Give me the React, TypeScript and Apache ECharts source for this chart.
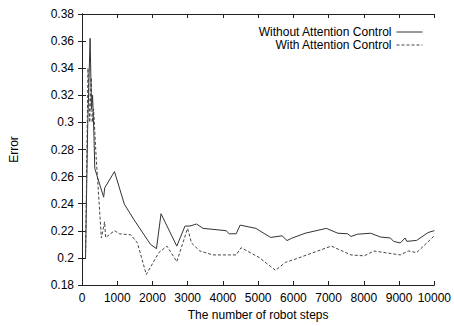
import React, { useEffect, useRef } from "react";
import * as echarts from "echarts";

const seriesNames = ["Without Attention Control", "With Attention Control"];

const withoutSteps = [100, 160, 230, 270, 300, 340, 363, 615, 645, 922, 1201, 1480, 1946, 2114, 2243, 2690, 2924, 3065, 3250, 3436, 4087, 4180, 4376, 4488, 4935, 5354, 5680, 5819, 5950, 6332, 6936, 7263, 7542, 7635, 7821, 8194, 8473, 8752, 8846, 9032, 9171, 9218, 9497, 9823, 10000];
const withoutError = [0.2, 0.295, 0.362, 0.31, 0.32, 0.29, 0.266, 0.2448, 0.2517, 0.2637, 0.2397, 0.228, 0.2099, 0.2068, 0.2326, 0.2087, 0.2235, 0.2235, 0.225, 0.2218, 0.2201, 0.2178, 0.2178, 0.2242, 0.2218, 0.2151, 0.2163, 0.2128, 0.2145, 0.2182, 0.2218, 0.2182, 0.2178, 0.2158, 0.2175, 0.2182, 0.2154, 0.2147, 0.2122, 0.211, 0.2147, 0.2122, 0.2129, 0.2187, 0.2201];

const withSteps = [100, 170, 220, 260, 290, 330, 370, 400, 550, 642, 670, 922, 1061, 1388, 1574, 1825, 2179, 2411, 2690, 2997, 3109, 3343, 3715, 4181, 4376, 4516, 5028, 5494, 5774, 6053, 7076, 7635, 8008, 8287, 9032, 9265, 9497, 10000];
const withError = [0.2, 0.34, 0.3, 0.333, 0.3, 0.31, 0.29, 0.275, 0.2147, 0.2266, 0.215, 0.2201, 0.2178, 0.217, 0.211, 0.1877, 0.2039, 0.2087, 0.1972, 0.2218, 0.211, 0.2051, 0.2022, 0.2022, 0.2022, 0.2075, 0.2003, 0.1908, 0.1967, 0.1991, 0.2087, 0.2022, 0.2015, 0.2051, 0.2022, 0.2051, 0.2039, 0.2163];

const FONT = "'Liberation Sans', Arial, sans-serif";

export default function App() {
  const ref = useRef<HTMLDivElement>(null);
  useEffect(() => {
    if (!ref.current) return;
    const chart = echarts.init(ref.current, null, { renderer: "svg" });
    const axisLine = { show: true, lineStyle: { color: "#222", width: 1 } };
    const fmtY = (v: number) => String(parseFloat(v.toFixed(2)));
    const fmtX = (v: number) => String(Math.round(v));
    chart.setOption({
      animation: false,
      backgroundColor: "#fff",
      grid: { left: 77, right: 19, top: 14, bottom: 33 },
      legend: {
        show: true,
        orient: "vertical",
        right: 31,
        top: 26,
        padding: 0,
        align: "right",
        itemWidth: 26,
        itemHeight: 8,
        itemGap: 1,
        itemStyle: { opacity: 0 },
        lineStyle: { width: 1 },
        textStyle: { fontFamily: FONT, fontSize: 12, color: "#000", lineHeight: 10 },
        data: seriesNames,
      },
      xAxis: [
        {
          type: "value",
          min: 0,
          max: 10000,
          interval: 1000,
          name: "The number of robot steps",
          nameLocation: "middle",
          nameGap: 24,
          nameTextStyle: { fontFamily: FONT, fontSize: 12, color: "#000" },
          axisLine,
          axisTick: { show: true, inside: true, length: 4, lineStyle: { color: "#222" } },
          axisLabel: { fontFamily: FONT, fontSize: 12, color: "#000", margin: 7, formatter: fmtX },
          splitLine: { show: false },
        },
        {
          type: "value",
          position: "top",
          min: 0,
          max: 10000,
          interval: 1000,
          axisLine,
          axisTick: { show: true, inside: true, length: 4, lineStyle: { color: "#222" } },
          axisLabel: { show: false },
          splitLine: { show: false },
        },
      ],
      yAxis: [
        {
          type: "value",
          min: 0.18,
          max: 0.38,
          interval: 0.02,
          name: "Error",
          nameLocation: "middle",
          nameGap: 62,
          nameRotate: 90,
          nameTextStyle: { fontFamily: FONT, fontSize: 12, color: "#000" },
          axisLine,
          axisTick: { show: true, inside: true, length: 4, lineStyle: { color: "#222" } },
          axisLabel: { fontFamily: FONT, fontSize: 12, color: "#000", margin: 8, formatter: fmtY },
          splitLine: { show: false },
        },
        {
          type: "value",
          position: "right",
          min: 0.18,
          max: 0.38,
          interval: 0.02,
          axisLine,
          axisTick: { show: true, inside: true, length: 4, lineStyle: { color: "#222" } },
          axisLabel: { show: false },
          splitLine: { show: false },
        },
      ],
      series: [
        {
          name: seriesNames[0],
          type: "line",
          showSymbol: false,
          symbol: "none",
          data: withoutSteps.map((s, i) => [s, withoutError[i]]),
          lineStyle: { color: "#333", width: 1 },
          itemStyle: { color: "#333" },
        },
        {
          name: seriesNames[1],
          type: "line",
          showSymbol: false,
          symbol: "none",
          data: withSteps.map((s, i) => [s, withError[i]]),
          lineStyle: { color: "#444", width: 1, type: [3, 2] },
          itemStyle: { color: "#444" },
        },
      ],
    });
    return () => chart.dispose();
  }, []);
  return <div ref={ref} style={{ width: 454, height: 326, position: "absolute", left: 0, top: 0 }} />;
}
